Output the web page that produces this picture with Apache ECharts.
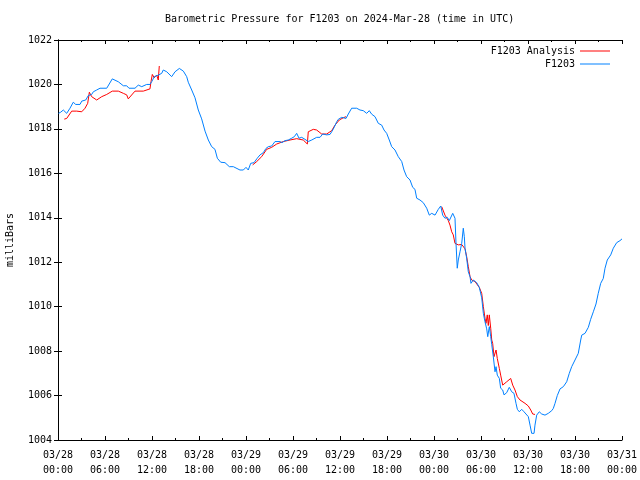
<!DOCTYPE html>
<html>
<head>
<meta charset="utf-8">
<script src="https://cdn.jsdelivr.net/npm/echarts@6/dist/echarts.min.js"></script>
<style>html,body{margin:0;padding:0;background:#fff;}#c{width:640px;height:480px;}</style>
</head>
<body>
<div id="c"></div>
<script>
// Hours since 2024-03-28 00:00 UTC
var xTickLabels = ['03/28\n00:00','03/28\n06:00','03/28\n12:00','03/28\n18:00','03/29\n00:00','03/29\n06:00','03/29\n12:00','03/29\n18:00','03/30\n00:00','03/30\n06:00','03/30\n12:00','03/30\n18:00','03/31\n00:00'];
var yTickValues = [1004,1006,1008,1010,1012,1014,1016,1018,1020,1022];

var blueHours = [0.06,0.34,0.68,1.11,1.53,1.95,2.26,2.81,3.03,3.54,3.87,4.30,4.51,4.94,5.36,6.22,6.93,7.70,8.34,8.77,9.06,9.83,10.25,10.69,11.32,11.74,11.96,12.29,12.80,13.24,13.44,13.88,14.08,14.51,14.94,15.49,16.00,16.43,16.63,17.07,17.49,17.91,18.34,18.77,19.19,19.62,20.04,20.34,20.77,21.32,21.87,22.38,22.60,23.23,23.66,24.00,24.29,24.60,25.02,25.44,25.79,26.21,26.55,26.85,27.28,27.70,28.34,28.60,28.98,29.40,29.83,30.17,30.47,30.77,31.11,31.53,31.95,32.39,33.02,33.45,33.79,34.30,34.72,34.94,35.23,35.58,35.78,36.22,36.77,37.06,37.49,38.13,38.55,38.97,39.41,39.74,40.05,40.47,40.89,41.32,41.62,41.96,42.29,42.60,43.02,43.44,43.88,44.17,44.51,44.94,45.28,45.57,45.79,46.21,46.63,47.07,47.40,47.71,48.13,48.55,48.86,49.11,49.40,49.70,49.95,50.39,50.68,50.81,50.97,51.10,51.32,51.54,51.74,51.87,51.96,52.17,52.38,52.60,52.72,53.02,53.45,53.78,54.09,54.30,54.51,54.73,54.86,55.06,55.24,55.37,55.57,55.79,55.92,56.08,56.34,56.51,56.77,56.94,57.28,57.61,57.92,58.21,58.47,58.64,58.89,59.20,59.49,59.74,60.04,60.26,60.47,60.77,60.89,61.11,61.44,61.75,62.17,62.59,63.03,63.23,63.45,63.74,64.09,64.51,64.94,65.27,65.58,66.00,66.42,66.73,66.86,67.28,67.70,68.00,68.34,68.68,68.97,69.28,69.61,69.83,70.12,70.56,70.89,71.32,71.74,72.00];
var blueValues = [1018.70,1018.75,1018.85,1018.70,1018.93,1019.20,1019.10,1019.10,1019.25,1019.30,1019.50,1019.55,1019.67,1019.75,1019.83,1019.83,1020.25,1020.12,1019.94,1019.94,1019.83,1019.83,1019.97,1019.90,1020.00,1020.00,1020.12,1020.35,1020.42,1020.50,1020.65,1020.57,1020.50,1020.35,1020.57,1020.72,1020.60,1020.35,1020.10,1019.75,1019.40,1018.85,1018.45,1017.90,1017.50,1017.20,1017.08,1016.68,1016.50,1016.48,1016.30,1016.30,1016.27,1016.15,1016.15,1016.27,1016.15,1016.45,1016.48,1016.68,1016.83,1016.93,1017.12,1017.20,1017.23,1017.43,1017.43,1017.38,1017.47,1017.50,1017.58,1017.65,1017.80,1017.58,1017.62,1017.53,1017.43,1017.50,1017.62,1017.62,1017.77,1017.73,1017.75,1017.87,1018.05,1018.32,1018.43,1018.52,1018.47,1018.67,1018.93,1018.93,1018.85,1018.82,1018.70,1018.82,1018.66,1018.55,1018.25,1018.17,1017.95,1017.80,1017.50,1017.20,1017.05,1016.75,1016.53,1016.15,1015.85,1015.70,1015.37,1015.28,1014.88,1014.80,1014.68,1014.43,1014.12,1014.20,1014.12,1014.38,1014.53,1014.12,1013.98,1014.02,1013.87,1014.20,1013.98,1012.85,1011.73,1012.10,1012.47,1012.85,1013.53,1013.15,1012.63,1012.18,1011.57,1011.35,1011.05,1011.20,1011.08,1010.87,1010.40,1009.70,1009.32,1009.00,1008.65,1009.10,1008.65,1008.30,1007.75,1007.07,1007.30,1006.92,1006.77,1006.33,1006.25,1006.03,1006.13,1006.37,1006.17,1006.10,1005.65,1005.38,1005.27,1005.38,1005.27,1005.20,1005.05,1004.67,1004.30,1004.30,1004.67,1005.12,1005.27,1005.17,1005.12,1005.20,1005.32,1005.42,1005.65,1006.00,1006.30,1006.40,1006.62,1007.00,1007.30,1007.60,1007.90,1008.50,1008.72,1008.80,1009.07,1009.43,1009.77,1010.12,1010.60,1011.05,1011.27,1011.73,1012.10,1012.33,1012.63,1012.88,1012.97,1013.05];

var redHours = [0.80,1.11,1.75,2.39,3.03,3.45,3.79,4.00,4.30,4.94,5.58,6.22,6.93,7.70,8.34,8.77,8.97,9.83,10.89,11.74,11.87,12.04,12.29,12.60,12.80,12.93,18.00,24.85,25.37,26.00,26.64,27.28,27.92,28.76,29.62,30.47,31.31,31.83,31.95,32.59,33.02,33.66,34.30,34.94,35.36,35.91,36.42,36.77,42.00,48.98,49.40,49.83,50.04,50.26,50.46,50.68,51.10,51.54,51.74,51.96,52.17,52.38,52.60,52.81,53.23,53.78,54.09,54.30,54.51,54.64,54.80,54.93,55.06,55.24,55.37,55.49,55.66,55.92,56.08,56.34,56.51,56.77,57.28,57.79,58.05,58.34,58.64,58.98,59.62,60.04,60.35,60.60,60.89];
var redValues = [1018.44,1018.47,1018.80,1018.80,1018.77,1018.93,1019.15,1019.65,1019.45,1019.30,1019.45,1019.55,1019.70,1019.70,1019.60,1019.53,1019.35,1019.70,1019.70,1019.80,1020.12,1020.45,1020.30,1020.42,1020.20,1020.83,null,1016.38,1016.53,1016.75,1017.08,1017.17,1017.32,1017.43,1017.50,1017.56,1017.50,1017.32,1017.87,1017.98,1017.95,1017.77,1017.77,1017.92,1018.17,1018.40,1018.50,1018.55,null,1014.50,1014.12,1013.87,1013.67,1013.37,1013.23,1012.85,1012.78,1012.80,1012.80,1012.60,1012.25,1011.80,1011.35,1011.20,1011.13,1010.87,1010.60,1010.00,1009.48,1009.25,1009.63,1009.15,1009.63,1009.03,1008.50,1008.35,1007.75,1008.05,1007.67,1007.22,1006.92,1006.47,1006.62,1006.77,1006.47,1006.25,1005.95,1005.80,1005.65,1005.53,1005.35,1005.17,1005.15];

function zip(a, b) { var out = []; for (var i = 0; i < a.length; i++) out.push([a[i], b[i]]); return out; }

var FONT = '"DejaVu Sans Mono", "Liberation Mono", monospace';
var chart = echarts.init(document.getElementById('c'), null, { renderer: 'canvas' });

var tickCommon = { show: true, inside: true, length: 4, lineStyle: { color: '#000', width: 1 } };
var minorCommon = { show: true, splitNumber: 2, length: 2, lineStyle: { color: '#000', width: 1 } };

chart.setOption({
  animation: false,
  backgroundColor: '#fff',
  textStyle: { fontFamily: FONT, color: '#000' },
  title: {
    text: 'Barometric Pressure for F1203 on 2024-Mar-28 (time in UTC)',
    left: 165, top: 14, padding: 0,
    textStyle: { fontFamily: FONT, fontSize: 10, fontWeight: 'normal', color: '#000' }
  },
  legend: {
    orient: 'vertical',
    right: 30, top: 45, padding: 0,
    align: 'right',
    itemWidth: 30, itemHeight: 1, itemGap: 1,
    icon: 'rect',
    textStyle: { fontFamily: FONT, fontSize: 10, color: '#000', lineHeight: 12, padding: [0, 0, 0, 0] },
    data: ['F1203 Analysis', 'F1203']
  },
  grid: { left: 58, right: 18, top: 40, bottom: 40, containLabel: false, outerBoundsMode: 'none' },
  xAxis: [
    {
      type: 'value', min: 0, max: 72, interval: 6, position: 'bottom',
      axisLine: { show: true, lineStyle: { color: '#000', width: 1 } },
      axisTick: tickCommon, minorTick: minorCommon,
      splitLine: { show: false },
      axisLabel: {
        show: true, margin: 8, fontFamily: FONT, fontSize: 10, color: '#000', lineHeight: 15,
        formatter: function (v) { return xTickLabels[Math.round(v / 6)]; }
      }
    },
    {
      type: 'value', min: 0, max: 72, interval: 6, position: 'top',
      axisLine: { show: true, lineStyle: { color: '#000', width: 1 } },
      axisTick: tickCommon, minorTick: minorCommon,
      splitLine: { show: false }, axisLabel: { show: false }
    }
  ],
  yAxis: [
    {
      type: 'value', min: 1004, max: 1022, interval: 2, position: 'left',
      name: 'milliBars', nameLocation: 'middle', nameGap: 43, nameRotate: 90,
      nameTextStyle: { fontFamily: FONT, fontSize: 10, color: '#000' },
      axisLine: { show: true, lineStyle: { color: '#000', width: 1 } },
      axisTick: tickCommon,
      splitLine: { show: false },
      axisLabel: {
        margin: 6, fontFamily: FONT, fontSize: 10, color: '#000',
        formatter: function (v) { var i = yTickValues.indexOf(v); return i >= 0 ? String(yTickValues[i]) : ''; }
      }
    },
    {
      type: 'value', min: 1004, max: 1022, interval: 2, position: 'right',
      axisLine: { show: true, lineStyle: { color: '#000', width: 1 } },
      axisTick: tickCommon,
      splitLine: { show: false }, axisLabel: { show: false }
    }
  ],
  series: [
    {
      name: 'F1203 Analysis', type: 'line', xAxisIndex: 0, yAxisIndex: 0,
      data: zip(redHours, redValues), showSymbol: false, symbol: 'none', connectNulls: false,
      color: '#ff0000', lineStyle: { color: '#ff0000', width: 1 }
    },
    {
      name: 'F1203', type: 'line', xAxisIndex: 0, yAxisIndex: 0,
      data: zip(blueHours, blueValues), showSymbol: false, symbol: 'none',
      color: '#0080ff', lineStyle: { color: '#0080ff', width: 1 }
    }
  ]
});
</script>
</body>
</html>
